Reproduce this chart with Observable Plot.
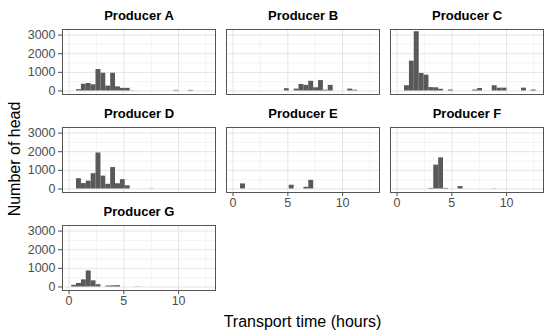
<!DOCTYPE html>
<html>
<head>
<meta charset="utf-8">
<script src="https://cdn.jsdelivr.net/npm/d3@7"></script>
<script src="https://cdn.jsdelivr.net/npm/@observablehq/plot@0.6"></script>
<style>
  html, body { margin: 0; padding: 0; background: white; }
</style>
</head>
<body>
<div id="chart"></div>
<script>
const producers = ["Producer A", "Producer B", "Producer C", "Producer D", "Producer E", "Producer F", "Producer G"];
// histogram bin edges (hours)
const binEdges = [0.24, 0.68, 1.13, 1.57, 2.02, 2.46, 2.91, 3.35, 3.80, 4.24, 4.69, 5.13, 5.58, 6.02, 6.47,
                  6.91, 7.36, 7.80, 8.25, 8.69, 9.14, 9.58, 10.03, 10.47, 10.92, 11.36, 11.81, 12.25, 12.70, 13.14];
// counts per bin (number of head)
const countsA = [0,70,360,400,330,1150,950,260,950,220,140,140,10,5,0,0,0,0,0,0,0,30,0,0,30,0,0,0,0];
const countsB = [0,0,0,0,0,0,0,0,0,0,120,0,100,350,300,520,170,560,40,300,0,0,0,100,40,0,0,0,0];
const countsC = [0,280,1600,3180,940,850,180,170,90,0,50,0,0,0,0,50,130,0,0,280,150,150,0,0,0,150,0,50,0];
const countsD = [0,550,290,420,820,1930,690,250,1150,280,500,170,0,0,0,0,10,0,0,0,0,0,0,0,0,0,0,0,0];
const countsE = [0,270,0,0,0,0,0,0,0,0,0,200,0,0,90,460,0,0,0,0,0,0,0,0,0,0,0,0,0];
const countsF = [0,0,0,0,0,0,30,1280,1670,30,0,0,130,0,0,0,0,0,0,10,0,0,0,0,0,0,0,0,0];
const countsG = [90,190,380,860,330,120,0,50,60,70,0,0,0,10,0,0,0,0,0,0,0,0,0,0,0,0,0,0,0];
const xTicks = [0, 5, 10];
const yTicks = [0, 1000, 2000, 3000];
const xMajorGrid = [0, 5, 10];
const xMinorGrid = [2.5, 7.5, 12.5];
const yMajorGrid = [0, 1000, 2000, 3000];
const yMinorGrid = [500, 1500, 2500];
const xTitle = "Transport time (hours)";
const yTitle = "Number of head";

const allCounts = [countsA, countsB, countsC, countsD, countsE, countsF, countsG];
const ncol = 3;
const panels = producers.map((name, j) => ({name, col: j % ncol, row: Math.floor(j / ncol)}));
const bars = [];
panels.forEach((p, j) => {
  allCounts[j].forEach((c, i) => {
    if (c > 0) bars.push({producer: p.name, col: p.col, row: p.row, x1: binEdges[i], x2: binEdges[i + 1], count: c});
  });
});

const font = "'Liberation Sans', Arial, Helvetica, sans-serif";

const svg = Plot.plot({
  width: 550,
  height: 334,
  marginTop: 28,
  marginLeft: 62,
  marginRight: 7,
  marginBottom: 43,
  style: {fontFamily: font, fontSize: "12.5px", color: "#4d4d4d", background: "white", overflow: "visible"},
  fx: {domain: [0, 1, 2], padding: 0.07, axis: null},
  fy: {domain: [0, 1, 2], padding: 0.34, axis: null},
  x: {domain: [-0.6, 13.37], ticks: xTicks, tickSize: 4, tickPadding: 2, tickFormat: d3.format("d"), label: null},
  y: {domain: [-190, 3300], ticks: yTicks, tickSize: 4, tickPadding: 3, tickFormat: d3.format("d"), label: null},
  marks: [
    Plot.ruleX(xMinorGrid, {stroke: "#ebebeb", strokeWidth: 0.6}),
    Plot.ruleY(yMinorGrid, {stroke: "#ebebeb", strokeWidth: 0.6}),
    Plot.ruleX(xMajorGrid, {stroke: "#e4e4e4", strokeWidth: 1}),
    Plot.ruleY(yMajorGrid, {stroke: "#e4e4e4", strokeWidth: 1}),
    Plot.rectY(bars, {x1: "x1", x2: "x2", y: "count", fx: "col", fy: "row", fill: "#595959"}),
    Plot.frame({stroke: "#555555", strokeWidth: 1}),
    Plot.text(panels, {fx: "col", fy: "row", text: "name", frameAnchor: "top", lineAnchor: "middle", dy: -14,
                       fontWeight: "bold", fontSize: 13, fill: "black"})
  ]
});

d3.select(svg).selectAll("g[aria-label='y-axis tick'], g[aria-label='x-axis tick']").attr("stroke", "#333333");
d3.select(svg).selectAll("g[aria-label='y-axis tick label'], g[aria-label='x-axis tick label']").attr("font-size", 12.5);

const s = d3.select(svg);
s.append("text")
  .attr("transform", "translate(14,159) rotate(-90)")
  .attr("text-anchor", "middle")
  .attr("dominant-baseline", "central")
  .attr("font-family", font)
  .attr("font-size", 16)
  .attr("fill", "black")
  .text(yTitle);
s.append("text")
  .attr("x", 302.5)
  .attr("y", 327)
  .attr("text-anchor", "middle")
  .attr("font-family", font)
  .attr("font-size", 16)
  .attr("fill", "black")
  .text(xTitle);

document.getElementById("chart").appendChild(svg);
</script>
</body>
</html>
